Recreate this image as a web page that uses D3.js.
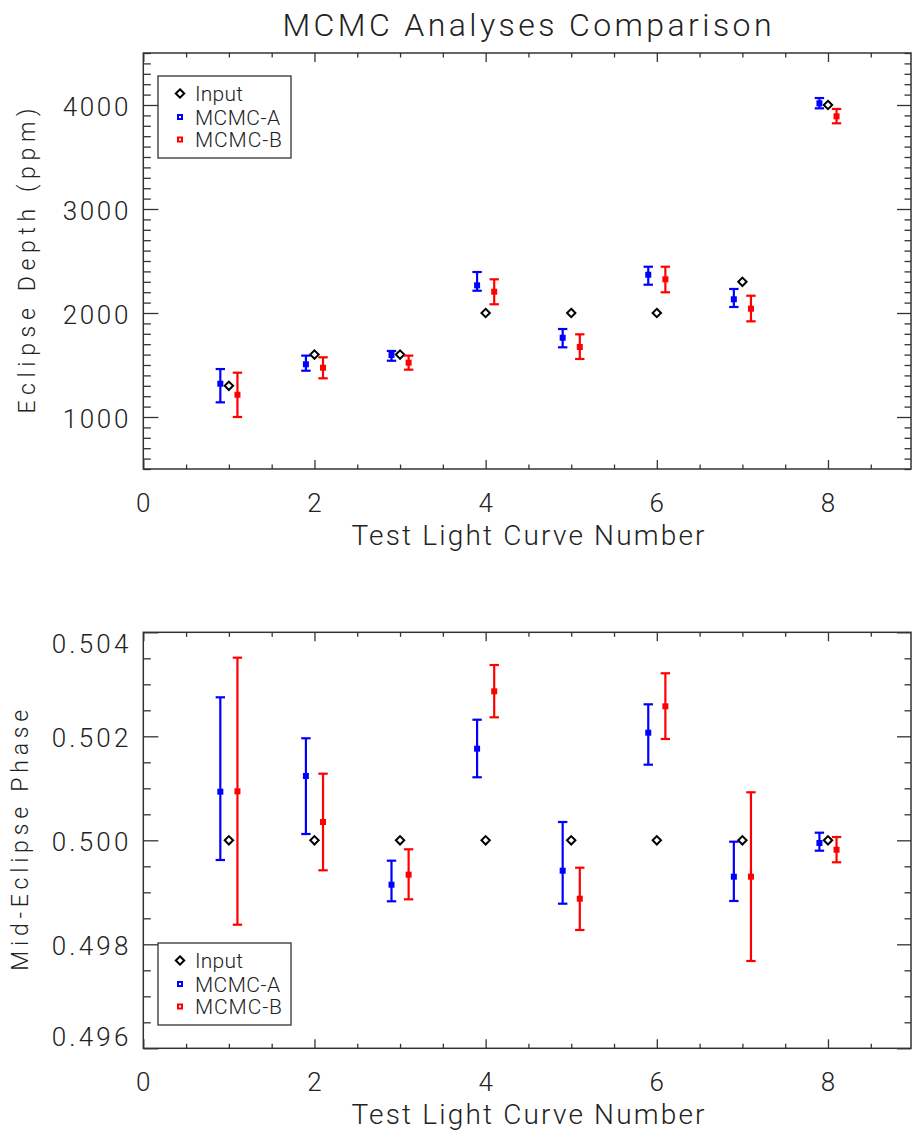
<!DOCTYPE html>
<html><head><meta charset="utf-8">
<script src="https://cdn.jsdelivr.net/npm/d3@7"></script>
<style>
body{margin:0;background:#fff}
svg{display:block}
text{font-family:Roboto,"DejaVu Sans",sans-serif;font-weight:300;fill:#222}
</style>
</head><body>
<svg id="chart" width="912" height="1131"></svg>
<script>
// ---------- data ----------
const curves = [1, 2, 3, 4, 5, 6, 7, 8];
const seriesNames = ["Input", "MCMC-A", "MCMC-B"];
const chartTitle = "MCMC Analyses Comparison";
const xTitle = "Test Light Curve Number";
const depthTitle = "Eclipse Depth (ppm)";
const phaseTitle = "Mid-Eclipse Phase";

const xTickValues = [0, 2, 4, 6, 8];
const xTickLabels = ["0", "2", "4", "6", "8"];
const depthTickValues = [1000, 2000, 3000, 4000];
const depthTickLabels = ["1000", "2000", "3000", "4000"];
const phaseTickValues = [0.496, 0.498, 0.500, 0.502, 0.504];
const phaseTickLabels = ["0.496", "0.498", "0.500", "0.502", "0.504"];

// Eclipse depth (ppm)
const depthInput = [1300, 1600, 1600, 2000, 2000, 2000, 2300, 4000];
const depthA     = [1320, 1507, 1596, 2266, 1762, 2368, 2132, 4016];
const depthALow  = [1141, 1445, 1541, 2214, 1670, 2272, 2058, 3968];
const depthAHigh = [1461, 1590, 1635, 2394, 1846, 2445, 2231, 4067];
const depthB     = [1214, 1474, 1522, 2205, 1673, 2324, 2041, 3891];
const depthBLow  = [1000, 1372, 1455, 2084, 1558, 2199, 1920, 3824];
const depthBHigh = [1426, 1574, 1590, 2324, 1795, 2445, 2166, 3962];

// Mid-eclipse phase
const phaseInput = [0.5000, 0.5000, 0.5000, 0.5000, 0.5000, 0.5000, 0.5000, 0.5000];
const phaseA     = [0.500935, 0.501237, 0.499146, 0.501762, 0.499415, 0.502069, 0.499300, 0.499948];
const phaseALow  = [0.499621, 0.500121, 0.498827, 0.501212, 0.498781, 0.501454, 0.498833, 0.499800];
const phaseAHigh = [0.502750, 0.501962, 0.499608, 0.502319, 0.500352, 0.502615, 0.499973, 0.500146];
const phaseB     = [0.500942, 0.500352, 0.499338, 0.502865, 0.498877, 0.502577, 0.499300, 0.499819];
const phaseBLow  = [0.498377, 0.499423, 0.498865, 0.502365, 0.498275, 0.501948, 0.497679, 0.499577];
const phaseBHigh = [0.503512, 0.501281, 0.499827, 0.503371, 0.499473, 0.503212, 0.500923, 0.500063];

// ---------- drawing ----------
const svg = d3.select("#chart");
const L = 143.3, R = 911;
const AXIS = "#333";
const BLUE = "#0000ff", RED = "#ff0000";

svg.append("text").attr("x", 527).attr("y", 36).attr("text-anchor", "middle")
  .attr("font-size", 32).attr("textLength", 489).attr("lengthAdjust", "spacing")
  .text(chartTitle);

function panel(opt) {
  const g = svg.append("g");
  const x = d3.scaleLinear().domain([0, 8.97]).range([L, R]);
  const y = d3.scaleLinear().domain(opt.domain).range([opt.bottom, opt.top]);
  const H = opt.bottom - opt.top;

  // axes (ticks inward, via d3 axes)
  const xMinor = d3.range(0, 8.97, 0.5).filter(v => v % 2 !== 0);
  const yAll = d3.range(opt.domain[0], opt.domain[1] + opt.minor / 2, opt.minor);
  const isMajor = v => Math.abs(v / opt.major - Math.round(v / opt.major)) < 1e-6;
  const yMinor = yAll.filter(v => !isMajor(v));
  const yMajor = yAll.filter(v => isMajor(v));

  const axes = [
    [d3.axisBottom(x).tickValues(xTickValues).tickSize(-9), `translate(0,${opt.bottom})`],
    [d3.axisBottom(x).tickValues(xMinor).tickSize(-4.5), `translate(0,${opt.bottom})`],
    [d3.axisTop(x).tickValues(xTickValues).tickSize(-9), `translate(0,${opt.top})`],
    [d3.axisTop(x).tickValues(xMinor).tickSize(-4.5), `translate(0,${opt.top})`],
    [d3.axisLeft(y).tickValues(yMajor).tickSize(-15), `translate(${L},0)`],
    [d3.axisLeft(y).tickValues(yMinor).tickSize(-7.5), `translate(${L},0)`],
    [d3.axisRight(y).tickValues(yMajor).tickSize(-14), `translate(${R},0)`],
    [d3.axisRight(y).tickValues(yMinor).tickSize(-6.5), `translate(${R},0)`]
  ];
  axes.forEach(([ax, tr]) => {
    const a = g.append("g").attr("transform", tr).call(ax.tickFormat(""));
    a.select(".domain").remove();
    a.selectAll("line").attr("stroke", AXIS).attr("stroke-width", 1.3);
    a.selectAll("text").remove();
  });
  g.append("rect").attr("x", L).attr("y", opt.top).attr("width", R - L).attr("height", H)
    .attr("fill", "none").attr("stroke", AXIS).attr("stroke-width", 1.5);

  // x tick labels
  g.selectAll(".xl").data(xTickValues).enter().append("text")
    .attr("x", d => x(d)).attr("y", opt.bottom + 42.7).attr("text-anchor", "middle")
    .attr("font-size", 26).text((d, i) => xTickLabels[i]);
  // x title
  g.append("text").attr("x", 528).attr("y", opt.bottom + 76).attr("text-anchor", "middle")
    .attr("font-size", 28).attr("textLength", 353).attr("lengthAdjust", "spacing").text(xTitle);

  // y tick labels (kept inside frame vertically)
  const hLab = 18.5;
  g.selectAll(".yl").data(opt.yTicks).enter().append("text")
    .attr("x", 128.3)
    .attr("y", d => {
      let c = y(d) + 1.5;
      c = Math.max(opt.top + 2 + hLab / 2, Math.min(opt.bottom - 2 - hLab / 2, c));
      return c + hLab / 2;
    })
    .attr("text-anchor", "end").attr("font-size", 26)
    .attr("textLength", opt.labW).attr("lengthAdjust", "spacing")
    .text((d, i) => opt.yLabels[i]);
  // y title
  g.append("text").attr("transform", `translate(${opt.titleX},${(opt.top + opt.bottom) / 2}) rotate(-90)`)
    .attr("text-anchor", "middle").attr("font-size", 23)
    .attr("textLength", opt.titleW).attr("lengthAdjust", "spacing").text(opt.title);

  // data
  const off = 0.1, cap = 4.7;
  function diamond(px, py, s) {
    return `M${px},${py - s}L${px + s},${py}L${px},${py + s}L${px - s},${py}Z`;
  }
  // input diamonds
  g.selectAll(".inp").data(curves).enter().append("path")
    .attr("d", (d, i) => diamond(x(d), y(opt.input[i]), 4.2))
    .attr("fill", "#fff").attr("stroke", "#000").attr("stroke-width", 2);

  function series(vals, lo, hi, dx, color) {
    const s = g.append("g").attr("stroke", color).attr("stroke-width", 2.2);
    curves.forEach((c, i) => {
      const px = x(c + dx);
      s.append("line").attr("x1", px).attr("x2", px).attr("y1", y(lo[i])).attr("y2", y(hi[i]));
      s.append("line").attr("x1", px - cap).attr("x2", px + cap).attr("y1", y(lo[i])).attr("y2", y(lo[i]));
      s.append("line").attr("x1", px - cap).attr("x2", px + cap).attr("y1", y(hi[i])).attr("y2", y(hi[i]));
      s.append("rect").attr("x", px - 3).attr("y", y(vals[i]) - 3).attr("width", 6).attr("height", 6)
        .attr("fill", color).attr("stroke", "none");
    });
  }
  series(opt.a, opt.aLo, opt.aHi, -off, BLUE);
  series(opt.b, opt.bLo, opt.bHi, off, RED);

  // legend
  const lg = g.append("g");
  lg.append("rect").attr("x", 158).attr("y", opt.legTop).attr("width", 133).attr("height", 82)
    .attr("fill", "#fff").attr("stroke", AXIS).attr("stroke-width", 1.3);
  const rows = [17.5, 41, 63.5];
  const widths = [48, 85, 87];
  seriesNames.forEach((name, i) => {
    const cy = opt.legTop + rows[i];
    if (i === 0) {
      lg.append("path").attr("d", diamond(180, cy, 4.2)).attr("fill", "#fff")
        .attr("stroke", "#000").attr("stroke-width", 2);
    } else {
      lg.append("rect").attr("x", 178).attr("y", cy - 2).attr("width", 4).attr("height", 4)
        .attr("fill", "#fff").attr("stroke", i === 1 ? BLUE : RED).attr("stroke-width", 2);
    }
    lg.append("text").attr("x", 195).attr("y", cy + 7.6).attr("font-size", 21)
      .attr("textLength", widths[i]).attr("lengthAdjust", "spacing").text(name);
  });
}

panel({
  top: 53, bottom: 469, domain: [500, 4500], major: 1000, minor: 100,
  yTicks: depthTickValues, yLabels: depthTickLabels, labW: 65.6,
  title: depthTitle, titleX: 34.5, titleW: 305,
  input: depthInput, a: depthA, aLo: depthALow, aHi: depthAHigh,
  b: depthB, bLo: depthBLow, bHi: depthBHigh, legTop: 76
});
panel({
  top: 632.3, bottom: 1048.3, domain: [0.496, 0.504], major: 0.002, minor: 0.0005,
  yTicks: phaseTickValues, yLabels: phaseTickLabels, labW: 76.6,
  title: phaseTitle, titleX: 27.5, titleW: 261,
  input: phaseInput, a: phaseA, aLo: phaseALow, aHi: phaseAHigh,
  b: phaseB, bLo: phaseBLow, bHi: phaseBHigh, legTop: 943
});
</script>
</body></html>
